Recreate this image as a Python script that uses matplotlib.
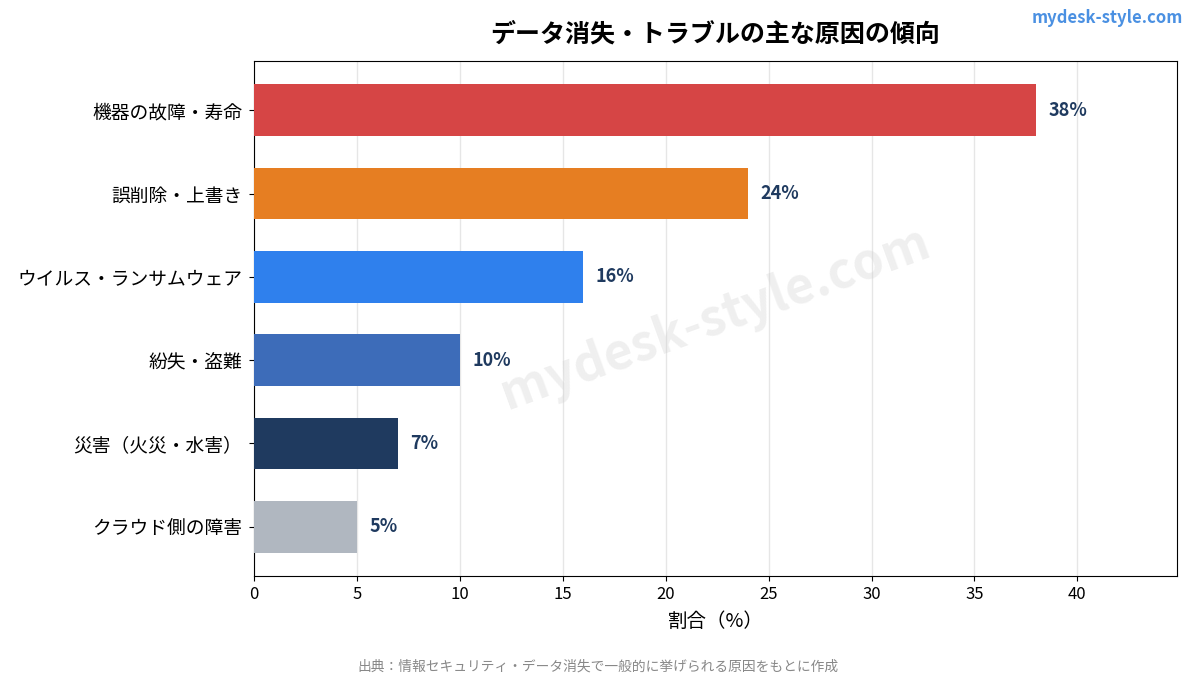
import matplotlib
matplotlib.use("Agg")
import matplotlib.pyplot as plt

plt.rcParams['font.family'] = ['Noto Sans CJK JP', 'DejaVu Sans']

causes = ['機器の故障・寿命', '誤削除・上書き', 'ウイルス・ランサムウェア',
          '紛失・盗難', '災害（火災・水害）', 'クラウド側の障害']
shares = [38, 24, 16, 10, 7, 5]
colors = ['#d64545', '#e67e22', '#2f80ed', '#3d6cb9', '#1f3a5f', '#b0b7c0']

fig = plt.figure(figsize=(11.96, 6.76), dpi=100)
ax = fig.add_axes([0.2124, 0.1479, 0.7717, 0.7619])

ypos = list(range(len(causes)))
bars = ax.barh(ypos, shares, height=0.62, color=colors, zorder=3)
ax.invert_yaxis()
ax.set_yticks(ypos)
ax.set_yticklabels(causes, fontsize=13.5)
ax.tick_params(axis='y', pad=5)
ax.set_xlim(0, max(shares) * 1.18)
ax.set_xticks(range(0, 45, 5))
ax.tick_params(axis='x', labelsize=12)
ax.grid(axis='x', color='#e6e6e6', linewidth=1, zorder=0)
ax.set_axisbelow(True)

for b, v in zip(bars, shares):
    ax.annotate(f'{v}%', (b.get_width(), b.get_y() + b.get_height() / 2),
                xytext=(9, 0), textcoords='offset points', va='center', ha='left',
                fontsize=13, fontweight='bold', color='#1f3a5f')

ax.set_xlabel('割合（%）', fontsize=14, labelpad=6)
ax.set_title('データ消失・トラブルの主な原因の傾向', fontsize=18, fontweight='bold', pad=14)

ax.text(0.5, 0.5, 'mydesk-style.com', transform=ax.transAxes, fontsize=36,
        fontweight='bold', color='#cccccc', alpha=0.3, rotation=20,
        ha='center', va='center', zorder=1)

fig.text(0.989, 0.973, 'mydesk-style.com', ha='right', va='center',
         fontsize=12, fontweight='bold', color='#4a90e2')
fig.text(0.5, 0.003, '出典：情報セキュリティ・データ消失で一般的に挙げられる原因をもとに作成',
         ha='center', va='bottom', fontsize=9.9, color='#888888')

fig.savefig('out.png', dpi=100)
